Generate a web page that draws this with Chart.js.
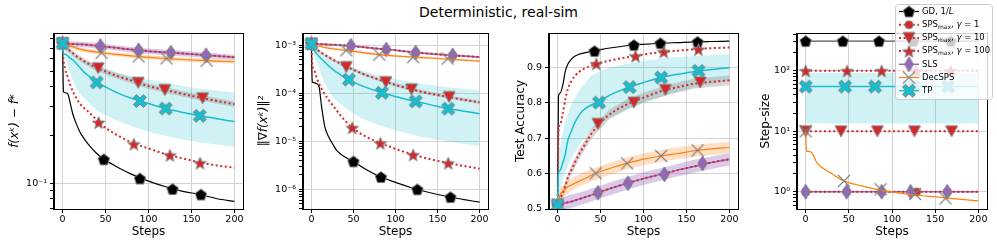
<!DOCTYPE html>
<html>
<head>
<meta charset="utf-8">
<script src="https://cdn.jsdelivr.net/npm/chart.js@4.4.0/dist/chart.umd.min.js"></script>
<style>
  html, body { margin: 0; padding: 0; background: #fff; }
  #wrap { position: relative; width: 997px; height: 249px; overflow: hidden; }
  .box { position: absolute; top: 0; }
  #title { position: absolute; left: 0; top: 4px; width: 997px; text-align: center;
           font: 14px "DejaVu Sans"; line-height: 16px; color: #000; }
</style>
</head>
<body>
<div id="wrap">
  <div id="title">Deterministic, real-sim</div>
  <div class="box" style="left:0px"><canvas id="c1" width="250" height="249"></canvas></div>
  <div class="box" style="left:250px"><canvas id="c2" width="245" height="249"></canvas></div>
  <div class="box" style="left:495px"><canvas id="c3" width="250" height="249"></canvas></div>
  <div class="box" style="left:745px"><canvas id="c4" width="252" height="249"></canvas></div>
</div>
<script>
// x grids (steps) the curves were read at
const steps = [0, 1, 3, 6, 9, 12, 16, 20, 25, 30, 40, 50, 65, 80, 100, 120, 140, 160, 180, 200];
const bandSteps = [0, 3, 8, 15, 25, 40, 60, 80, 100, 130, 160, 200];
const flatSteps = [0, 200];

// ---- panel 1: f(x^k) - f*
const lossGD = [0.75, 0.375, 0.368, 0.362, 0.315, 0.27, 0.235, 0.21, 0.19, 0.175, 0.153, 0.139, 0.125, 0.114, 0.103, 0.095, 0.089, 0.085, 0.080, 0.077];
const lossSps10 = [0.75, 0.73, 0.71, 0.69, 0.67, 0.65, 0.625, 0.605, 0.58, 0.56, 0.525, 0.50, 0.465, 0.44, 0.405, 0.382, 0.362, 0.343, 0.327, 0.312];
const lossSps100 = [0.75, 0.60, 0.52, 0.46, 0.41, 0.375, 0.34, 0.315, 0.295, 0.28, 0.248, 0.222, 0.198, 0.18, 0.165, 0.152, 0.143, 0.135, 0.129, 0.125];
const lossSls = [0.75, 0.749, 0.748, 0.746, 0.744, 0.742, 0.741, 0.74, 0.737, 0.733, 0.725, 0.715, 0.70, 0.685, 0.67, 0.658, 0.648, 0.637, 0.625, 0.613];
const lossSps1 = [0.75, 0.749, 0.748, 0.746, 0.744, 0.742, 0.741, 0.74, 0.737, 0.733, 0.725, 0.715, 0.70, 0.685, 0.67, 0.658, 0.648, 0.637, 0.625, 0.613];
const lossDec = [0.75, 0.745, 0.738, 0.728, 0.72, 0.712, 0.70, 0.69, 0.68, 0.672, 0.66, 0.65, 0.637, 0.626, 0.613, 0.603, 0.594, 0.587, 0.581, 0.575];
const lossTp = [0.75, 0.65, 0.64, 0.625, 0.605, 0.59, 0.56, 0.53, 0.495, 0.47, 0.428, 0.40, 0.365, 0.34, 0.315, 0.293, 0.277, 0.264, 0.253, 0.243];
const lossTpHi = [0.75, 0.72, 0.68, 0.63, 0.59, 0.545, 0.50, 0.47, 0.445, 0.415, 0.39, 0.369];
const lossTpLo = [0.75, 0.62, 0.50, 0.40, 0.34, 0.285, 0.25, 0.228, 0.21, 0.192, 0.18, 0.169];
const lossSlsHi = [0.75, 0.775, 0.775, 0.77, 0.765, 0.755, 0.733, 0.712, 0.697, 0.679, 0.662, 0.637];
const lossSlsLo = [0.75, 0.72, 0.716, 0.712, 0.708, 0.697, 0.678, 0.658, 0.643, 0.627, 0.612, 0.589];
const lossDecHi = [0.75, 0.755, 0.742, 0.724, 0.70, 0.68, 0.66, 0.645, 0.631, 0.616, 0.605, 0.592];
const lossDecLo = [0.75, 0.72, 0.70, 0.682, 0.66, 0.64, 0.622, 0.607, 0.595, 0.58, 0.569, 0.558];
const lossSps10Hi = [0.75, 0.735, 0.70, 0.655, 0.603, 0.546, 0.494, 0.458, 0.421, 0.387, 0.357, 0.324];
const lossSps10Lo = [0.75, 0.685, 0.65, 0.605, 0.557, 0.504, 0.456, 0.422, 0.389, 0.357, 0.329, 0.30];
const lossGDmk = [[0, 0.75], [48, 0.141], [90, 0.107], [128, 0.092], [161, 0.085]];
const lossSps1mk = [[0, 0.75], [44, 0.721], [88.5, 0.678], [126, 0.656], [167, 0.632]];
const lossSps10mk = [[0, 0.75], [41.5, 0.524], [88, 0.425], [119, 0.383], [163, 0.34]];
const lossSps100mk = [[0, 0.75], [42, 0.24], [83, 0.176], [125, 0.150], [160, 0.134]];
const lossSlsmk = [[0, 0.75], [44, 0.721], [88.5, 0.678], [126, 0.656], [167, 0.632]];
const lossDecmk = [[0, 0.75], [45.4, 0.655], [88.5, 0.62], [121, 0.604], [167.7, 0.584]];
const lossTpmk = [[0, 0.75], [39.6, 0.427], [90, 0.327], [120, 0.293], [159.6, 0.264]];

// ---- panel 2: ||grad f(x^k)||^2
const gradGD = [1.08e-3, 1.72e-4, 1.68e-4, 1.6e-4, 1.4e-4, 5.5e-5, 2.0e-5, 1.3e-5, 9e-6, 6.5e-6, 4.7e-6, 3.8e-6, 2.6e-6, 1.9e-6, 1.4e-6, 1.07e-6, 8.6e-7, 7.2e-7, 6.2e-7, 5.4e-7];
const gradSps10 = [1.08e-3, 1.0e-3, 9.2e-4, 8.3e-4, 7.6e-4, 7.0e-4, 6.3e-4, 5.7e-4, 5.1e-4, 4.6e-4, 3.7e-4, 3.1e-4, 2.4e-4, 1.95e-4, 1.5e-4, 1.2e-4, 1.0e-4, 8.6e-5, 7.4e-5, 6.5e-5];
const gradSps100 = [1.08e-3, 4.2e-4, 3.2e-4, 2.2e-4, 1.6e-4, 1.25e-4, 9.5e-5, 7.5e-5, 5.7e-5, 4.4e-5, 2.7e-5, 1.85e-5, 1.25e-5, 9.5e-6, 7.0e-6, 5.35e-6, 4.3e-6, 3.6e-6, 3.1e-6, 2.7e-6];
const gradSls = [1.08e-3, 1.078e-3, 1.075e-3, 1.07e-3, 1.065e-3, 1.06e-3, 1.05e-3, 1.04e-3, 1.03e-3, 1.02e-3, 9.9e-4, 9.6e-4, 9.0e-4, 8.5e-4, 7.9e-4, 7.2e-4, 6.7e-4, 6.3e-4, 6.0e-4, 5.7e-4];
const gradSps1 = [1.08e-3, 1.078e-3, 1.075e-3, 1.07e-3, 1.065e-3, 1.06e-3, 1.05e-3, 1.04e-3, 1.03e-3, 1.02e-3, 9.9e-4, 9.6e-4, 9.0e-4, 8.5e-4, 7.9e-4, 7.2e-4, 6.7e-4, 6.3e-4, 6.0e-4, 5.7e-4];
const gradDec = [1.08e-3, 1.06e-3, 1.03e-3, 1.0e-3, 9.7e-4, 9.4e-4, 9.0e-4, 8.8e-4, 8.5e-4, 8.3e-4, 7.9e-4, 7.5e-4, 6.9e-4, 6.4e-4, 6.0e-4, 5.7e-4, 5.45e-4, 5.2e-4, 4.95e-4, 4.7e-4];
const gradTp = [1.08e-3, 8.5e-4, 7.8e-4, 6.8e-4, 5.9e-4, 5.2e-4, 4.5e-4, 3.8e-4, 3.2e-4, 2.75e-4, 2.1e-4, 1.72e-4, 1.33e-4, 1.08e-4, 8.6e-5, 7.0e-5, 5.9e-5, 4.9e-5, 4.3e-5, 3.77e-5];
const gradTpHi = [1.08e-3, 9.5e-4, 7.8e-4, 6.2e-4, 5.0e-4, 3.9e-4, 3.0e-4, 2.4e-4, 2.0e-4, 1.6e-4, 1.35e-4, 1.15e-4];
const gradTpLo = [1.08e-3, 6.0e-4, 3.8e-4, 1.7e-4, 8.5e-5, 5.0e-5, 3.0e-5, 2.2e-5, 1.7e-5, 1.25e-5, 1.0e-5, 7.9e-6];
const gradSlsHi = [1.08e-3, 1.12e-3, 1.11e-3, 1.1e-3, 1.08e-3, 1.05e-3, 9.7e-4, 9.0e-4, 8.3e-4, 7.4e-4, 6.8e-4, 6.0e-4];
const gradSlsLo = [1.08e-3, 1.04e-3, 1.03e-3, 1.02e-3, 1.0e-3, 9.5e-4, 8.8e-4, 8.2e-4, 7.6e-4, 6.8e-4, 6.2e-4, 5.45e-4];
const gradDecHi = [1.08e-3, 1.07e-3, 1.03e-3, 9.8e-4, 9.1e-4, 8.5e-4, 7.6e-4, 6.9e-4, 6.4e-4, 5.95e-4, 5.5e-4, 4.95e-4];
const gradDecLo = [1.08e-3, 1.0e-3, 9.5e-4, 8.9e-4, 8.2e-4, 7.6e-4, 6.8e-4, 6.1e-4, 5.7e-4, 5.35e-4, 4.95e-4, 4.45e-4];
const gradSps10Hi = [1.08e-3, 9.9e-4, 8.4e-4, 7.0e-4, 5.5e-4, 4.05e-4, 2.8e-4, 2.1e-4, 1.62e-4, 1.19e-4, 9.3e-5, 7.0e-5];
const gradSps10Lo = [1.08e-3, 8.5e-4, 7.2e-4, 6.0e-4, 4.7e-4, 3.45e-4, 2.4e-4, 1.8e-4, 1.38e-4, 1.01e-4, 7.9e-5, 6.0e-5];
const gradGDmk = [[0, 1.08e-3], [50, 3.83e-6], [82.7, 1.81e-6], [126, 1.0e-6], [165.4, 6.9e-7]];
const gradSps1mk = [[0, 1.08e-3], [47, 9.8e-4], [89, 8.2e-4], [124, 7.1e-4], [168, 6.2e-4]];
const gradSps10mk = [[0, 1.08e-3], [41.5, 3.54e-4], [88.5, 1.72e-4], [119, 1.21e-4], [163.8, 8.4e-5]];
const gradSps100mk = [[0, 1.08e-3], [48.5, 1.93e-5], [82, 9.2e-6], [121, 5.27e-6], [162.7, 3.54e-6]];
const gradSlsmk = [[0, 1.08e-3], [47, 9.8e-4], [89, 8.2e-4], [124, 7.1e-4], [168, 6.2e-4]];
const gradDecmk = [[0, 1.08e-3], [41.5, 7.9e-4], [80.8, 6.4e-4], [121, 5.7e-4], [162, 5.3e-4]];
const gradTpmk = [[0, 1.08e-3], [44.6, 1.93e-4], [83.8, 1.03e-4], [124, 6.8e-5], [162.7, 4.8e-5]];

// ---- panel 3: test accuracy
const accGD = [0.511, 0.82, 0.828, 0.85, 0.89, 0.91, 0.924, 0.932, 0.938, 0.941, 0.946, 0.951, 0.957, 0.962, 0.966, 0.969, 0.971, 0.973, 0.974, 0.975];
const accSps10 = [0.511, 0.52, 0.53, 0.545, 0.565, 0.59, 0.61, 0.631, 0.655, 0.675, 0.715, 0.745, 0.775, 0.795, 0.815, 0.833, 0.845, 0.855, 0.86, 0.864];
const accSps100 = [0.511, 0.72, 0.74, 0.77, 0.81, 0.84, 0.862, 0.876, 0.888, 0.896, 0.906, 0.914, 0.922, 0.929, 0.937, 0.944, 0.948, 0.952, 0.955, 0.957];
const accSls = [0.511, 0.512, 0.513, 0.515, 0.517, 0.519, 0.521, 0.524, 0.528, 0.532, 0.54, 0.549, 0.561, 0.572, 0.586, 0.598, 0.61, 0.621, 0.632, 0.641];
const accSps1 = [0.511, 0.512, 0.513, 0.515, 0.517, 0.519, 0.521, 0.524, 0.528, 0.532, 0.54, 0.549, 0.561, 0.572, 0.586, 0.598, 0.61, 0.621, 0.632, 0.641];
const accDec = [0.513, 0.525, 0.54, 0.55, 0.557, 0.563, 0.568, 0.573, 0.579, 0.584, 0.596, 0.606, 0.618, 0.629, 0.641, 0.65, 0.657, 0.665, 0.67, 0.674];
const accTp = [0.511, 0.60, 0.61, 0.63, 0.655, 0.695, 0.72, 0.744, 0.765, 0.78, 0.795, 0.808, 0.827, 0.842, 0.858, 0.872, 0.881, 0.889, 0.895, 0.90];
const accTpHi = [0.65, 0.68, 0.74, 0.79, 0.835, 0.88, 0.90, 0.91, 0.919, 0.928, 0.933, 0.938];
const accTpLo = [0.515, 0.55, 0.60, 0.64, 0.68, 0.725, 0.758, 0.78, 0.80, 0.825, 0.845, 0.862];
const accSlsHi = [0.53, 0.532, 0.535, 0.54, 0.546, 0.558, 0.574, 0.59, 0.604, 0.622, 0.64, 0.658];
const accSlsLo = [0.492, 0.494, 0.497, 0.502, 0.51, 0.522, 0.538, 0.554, 0.568, 0.586, 0.603, 0.624];
const accDecHi = [0.513, 0.56, 0.57, 0.585, 0.598, 0.614, 0.63, 0.646, 0.658, 0.672, 0.682, 0.69];
const accDecLo = [0.513, 0.525, 0.535, 0.55, 0.563, 0.579, 0.596, 0.612, 0.624, 0.638, 0.648, 0.657];
const accSps10Hi = [0.511, 0.542, 0.572, 0.619, 0.669, 0.729, 0.781, 0.809, 0.829, 0.852, 0.869, 0.878];
const accSps10Lo = [0.511, 0.518, 0.544, 0.591, 0.641, 0.701, 0.753, 0.781, 0.801, 0.824, 0.841, 0.85];
const accGDmk = [[0, 0.511], [43, 0.947], [88.8, 0.964], [119.7, 0.969], [163, 0.973]];
const accSps1mk = [[0, 0.511], [47, 0.546], [81.9, 0.573], [124.3, 0.598], [168.7, 0.629]];
const accSps10mk = [[0, 0.511], [47, 0.741], [88.8, 0.801], [125.5, 0.837], [166, 0.858]];
const accSps100mk = [[0, 0.511], [45, 0.911], [90.7, 0.933], [123.6, 0.945], [164, 0.952]];
const accSlsmk = [[0, 0.511], [47, 0.546], [81.9, 0.573], [124.3, 0.598], [168.7, 0.629]];
const accDecmk = [[0, 0.513], [44.4, 0.601], [81, 0.629], [120.5, 0.65], [163, 0.666]];
const accTpmk = [[0, 0.511], [48.3, 0.801], [83.8, 0.845], [120.5, 0.872], [164, 0.891]];

// ---- panel 4: step-size
const stepGD = [309, 309];
const stepSps1 = [1, 1];
const stepSps10 = [10, 10];
const stepSps100 = [100, 100];
const stepSls = [1, 1];
const stepTp = [54.7, 54.7];
const stepTpHi = [92.7, 92.7];
const stepTpLo = [13.4, 13.4];
const stepDec = [10, 4.7, 4.65, 4.55, 4.0, 3.2, 2.7, 2.45, 2.2, 2.0, 1.62, 1.42, 1.25, 1.12, 1.0, 0.91, 0.85, 0.80, 0.75, 0.71];
const stepGDmk = [[0, 309], [43, 309], [85, 309], [125, 309], [168, 309]];
const stepSps1mk = [[0, 1], [47.5, 1], [88, 1], [128.6, 1], [164, 1]];
const stepSps10mk = [[0, 10], [41, 10], [83, 10], [126, 10], [169, 10]];
const stepSps100mk = [[0, 100], [48, 100], [88, 100], [128, 100], [168, 100]];
const stepSlsmk = [[0, 1], [47.5, 1], [88, 1], [121.6, 1], [164, 1]];
const stepDecmk = [[0, 10], [44.4, 1.51], [86.9, 1.1], [126.6, 0.92], [162, 0.78]];
const stepTpmk = [[0, 54.7], [45.6, 54.7], [80.3, 54.7], [125, 54.7], [165, 54.7]];

Chart.defaults.font.family = 'DejaVu Sans';
Chart.defaults.color = '#000';

const gray = '#7f7f7f';
const gridColor = '#d3d3d3';
const C = { gd: '#000000', sps: '#d62728', sls: '#9467bd', dec: '#ff7f0e', tp: '#17becf' };
const dot = [2, 2.6];

// matplotlib-like markers drawn onto small canvases
function makeMarker(shape, fill, w, h) {
  const c = document.createElement('canvas');
  c.width = w + 4; c.height = h + 4;
  const g = c.getContext('2d');
  g.translate(c.width / 2, c.height / 2);
  const rx = w / 2, ry = h / 2;
  g.beginPath();
  if (shape === 'x') {
    g.moveTo(-rx, -ry); g.lineTo(rx, ry); g.moveTo(rx, -ry); g.lineTo(-rx, ry);
    g.strokeStyle = gray; g.lineWidth = 1.1; g.stroke();
    return c;
  }
  if (shape === 'pentagon') {
    for (let k = 0; k < 5; k++) {
      const a = -Math.PI / 2 + k * 2 * Math.PI / 5;
      g.lineTo(rx * Math.cos(a), ry * Math.sin(a) + 0.6);
    }
  } else if (shape === 'star') {
    for (let k = 0; k < 10; k++) {
      const a = -Math.PI / 2 + k * Math.PI / 5;
      const r = k % 2 ? 0.42 : 1;
      g.lineTo(rx * r * Math.cos(a), ry * r * Math.sin(a) + 0.8);
    }
  } else if (shape === 'tri') {
    g.moveTo(-rx, -ry); g.lineTo(rx, -ry); g.lineTo(0, ry);
  } else if (shape === 'diamond') {
    g.moveTo(0, -ry); g.lineTo(rx, 0); g.lineTo(0, ry); g.lineTo(-rx, 0);
  } else if (shape === 'circle') {
    g.arc(0, 0, rx, 0, 2 * Math.PI);
  } else if (shape === 'X') {
    const t = 0.3;
    const pts = [[t, 1], [t, t], [1, t], [1, -t], [t, -t], [t, -1], [-t, -1], [-t, -t], [-1, -t], [-1, t], [-t, t], [-t, 1]];
    pts.forEach(([a, b]) => g.lineTo((a - b) * 0.72 * rx, (a + b) * 0.72 * ry));
  }
  g.closePath();
  g.fillStyle = fill; g.fill();
  g.strokeStyle = gray; g.lineWidth = 1; g.stroke();
  return c;
}

const mk = {
  gd: makeMarker('pentagon', '#000', 12, 12),
  sps1: makeMarker('circle', C.sps, 8, 8),
  sps10: makeMarker('tri', C.sps, 12, 11),
  sps100: makeMarker('star', C.sps, 13, 13),
  sls: makeMarker('diamond', C.sls, 9, 15),
  dec: makeMarker('x', null, 12, 12),
  tp: makeMarker('X', C.tp, 14, 14)
};

const pts = (xs, ys) => xs.map((x, i) => ({ x: x, y: ys[i] }));

function line(xs, ys, color, width, dash) {
  return { data: pts(xs, ys), borderColor: color, borderWidth: width, borderDash: dash || [],
           pointRadius: 0, fill: false, cubicInterpolationMode: 'monotone' };
}
function marks(list, img) {
  return { data: list.map(p => ({ x: p[0], y: p[1] })), showLine: false,
           pointStyle: img, pointRadius: 6, pointHoverRadius: 6 };
}
function band(xs, lo, hi, color) {
  return [
    { data: pts(xs, lo), borderWidth: 0, pointRadius: 0, fill: false },
    { data: pts(xs, hi), borderWidth: 0, pointRadius: 0, fill: '-1', backgroundColor: color }
  ];
}

const supDigits = { '0': '⁰', '1': '¹', '2': '²', '3': '³', '4': '⁴', '5': '⁵', '6': '⁶', '7': '⁷', '8': '⁸', '9': '⁹', '-': '⁻' };
function isDecade(v) { const e = Math.log10(v); return Math.abs(e - Math.round(e)) < 1e-9; }
function sciLabel(v) {
  const e = String(Math.round(Math.log10(v)));
  return '10' + e.split('').map(ch => supDigits[ch]).join('');
}
function minorTicks(e0, e1, min, max) {
  const out = [];
  for (let e = e0; e <= e1; e++) for (let m = 2; m <= 9; m++) {
    const v = m * Math.pow(10, e);
    if (v >= min && v <= max) out.push(v);
  }
  return out;
}

const tickFont = { size: 9.5 };
const titleFont = { size: 12 };

function xAxis() {
  return {
    type: 'linear', min: -10, max: 210,
    afterBuildTicks: s => { s.ticks = [0, 50, 100, 150, 200].map(v => ({ value: v })); },
    afterFit: s => { s.height = 40; },
    ticks: { font: tickFont, padding: 1, maxRotation: 0, autoSkip: false },
    grid: { color: gridColor, lineWidth: 1, tickColor: '#000', tickLength: 4 },
    border: { color: '#000', width: 1 },
    title: { display: true, text: 'Steps', font: titleFont, padding: { bottom: 10 } }
  };
}

function logAxis(min, max, majors, minors, title, width, pad, italic) {
  const all = majors.map(v => ({ value: v, major: true }))
    .concat(minors.map(v => ({ value: v, major: false })))
    .sort((a, b) => a.value - b.value);
  return {
    type: 'logarithmic', min: min, max: max,
    afterBuildTicks: s => { s.ticks = all.map(t => ({ value: t.value, major: t.major })); },
    afterFit: s => { s.width = width; },
    ticks: { font: tickFont, padding: 3, autoSkip: false, callback: v => isDecade(v) ? sciLabel(v) : '' },
    grid: { color: c => (c.tick && isDecade(c.tick.value)) ? gridColor : 'rgba(0,0,0,0)',
            tickColor: '#000', tickLength: 4, lineWidth: 1 },
    border: { color: '#000', width: 1 },
    title: { display: true, text: title, font: { size: 12, style: italic ? 'italic' : 'normal' }, padding: { top: pad } }
  };
}

// top and right spines
const frame = {
  id: 'frame',
  afterDraw(chart) {
    const a = chart.chartArea, g = chart.ctx;
    g.save();
    g.strokeStyle = '#000'; g.lineWidth = 1;
    g.strokeRect(Math.round(a.left) - 0.5, Math.round(a.top) + 0.5, Math.round(a.right - a.left) + 1, Math.round(a.bottom - a.top));
    g.restore();
  }
};

// legend box sitting in the top-right corner of the last panel
const legendItems = [
  { label: [['GD, 1/', 'n'], ['L', 'i']], color: C.gd, width: 1.2, dash: [], img: mk.gd },
  { label: [['SPS', 'n'], ['max', 's'], [', ', 'n'], ['γ', 'i'], [' = 1', 'n']], color: C.sps, width: 2, dash: dot, img: mk.sps1 },
  { label: [['SPS', 'n'], ['max', 's'], [', ', 'n'], ['γ', 'i'], [' = 10', 'n']], color: C.sps, width: 2, dash: dot, img: mk.sps10 },
  { label: [['SPS', 'n'], ['max', 's'], [', ', 'n'], ['γ', 'i'], [' = 100', 'n']], color: C.sps, width: 2, dash: dot, img: mk.sps100 },
  { label: [['SLS', 'n']], color: C.sls, width: 1.5, dash: [], img: mk.sls },
  { label: [['DecSPS', 'n']], color: C.dec, width: 1.2, dash: [], img: mk.dec },
  { label: [['TP', 'n']], color: C.tp, width: 1.5, dash: [], img: mk.tp }
];
const legendBox = {
  id: 'legendBox',
  afterDraw(chart) {
    const g = chart.ctx;
    g.save();
    const x0 = 150.5, y0 = 4.5, w = 97, h = 95, r = 3;
    g.beginPath();
    g.moveTo(x0 + r, y0); g.arcTo(x0 + w, y0, x0 + w, y0 + h, r); g.arcTo(x0 + w, y0 + h, x0, y0 + h, r);
    g.arcTo(x0, y0 + h, x0, y0, r); g.arcTo(x0, y0, x0 + w, y0, r); g.closePath();
    g.fillStyle = 'rgba(255,255,255,0.8)'; g.fill();
    g.strokeStyle = '#cccccc'; g.lineWidth = 1; g.stroke();
    legendItems.forEach((it, i) => {
      const y = 11.5 + i * 13.2;
      g.beginPath(); g.setLineDash(it.dash); g.strokeStyle = it.color; g.lineWidth = it.width;
      g.moveTo(154, y); g.lineTo(174, y); g.stroke(); g.setLineDash([]);
      g.drawImage(it.img, 164 - it.img.width / 2, y - it.img.height / 2);
      let x = 177;
      g.fillStyle = '#000'; g.textBaseline = 'middle';
      it.label.forEach(([t, s]) => {
        g.font = s === 'i' ? 'italic 8.5px "DejaVu Sans"' : (s === 's' ? '6px "DejaVu Sans"' : '8.5px "DejaVu Sans"');
        g.fillText(t, x, y + (s === 's' ? 2.5 : 0));
        x += g.measureText(t).width;
      });
    });
    g.restore();
  }
};

function makePanel(id, s, yScale, padRight, gdColor, extra) {
  const xsLine = s.flat ? flatSteps : steps;
  const xsBand = s.flat ? flatSteps : bandSteps;
  const list = [];
  list.push(...band(xsBand, s.tpLo, s.tpHi, 'rgba(23,190,207,0.2)'));
  if (s.sps10Lo) list.push(...band(xsBand, s.sps10Lo, s.sps10Hi, 'rgba(110,90,90,0.25)'));
  if (s.decLo) list.push(...band(xsBand, s.decLo, s.decHi, 'rgba(255,127,14,0.25)'));
  if (s.slsLo) list.push(...band(xsBand, s.slsLo, s.slsHi, 'rgba(148,103,189,0.35)'));
  list.push(line(xsLine, s.gd, gdColor, 1.2));
  list.push(marks(s.gdMk, mk.gd));
  list.push(line(xsLine, s.sps10, C.sps, 2, dot));
  list.push(marks(s.sps10Mk, mk.sps10));
  list.push(line(xsLine, s.sps100, C.sps, 2, dot));
  list.push(marks(s.sps100Mk, mk.sps100));
  list.push(line(xsLine, s.sls, C.sls, 1.5));
  list.push(line(xsLine, s.sps1, C.sps, 2, dot));
  list.push(marks(s.sps1Mk, mk.sps1));
  list.push(marks(s.slsMk, mk.sls));
  list.push(line(steps, s.dec, C.dec, 1.2));
  list.push(marks(s.decMk, mk.dec));
  list.push(line(xsLine, s.tp, C.tp, 1.5));
  list.push(marks(s.tpMk, mk.tp));
  // later entries drawn on top
  list.forEach((d, i) => { d.order = list.length - i; });

  return new Chart(document.getElementById(id), {
    type: 'line',
    data: { datasets: list },
    options: {
      responsive: false, animation: false, events: [],
      layout: { padding: { top: 33, left: 0, right: padRight, bottom: 0 } },
      plugins: { legend: { display: false }, tooltip: { enabled: false } },
      scales: { x: xAxis(), y: yScale }
    },
    plugins: [frame].concat(extra || [])
  });
}

makePanel('c1', {
  gd: lossGD, sps1: lossSps1, sps10: lossSps10, sps100: lossSps100, sls: lossSls, dec: lossDec, tp: lossTp,
  tpLo: lossTpLo, tpHi: lossTpHi, slsLo: lossSlsLo, slsHi: lossSlsHi, decLo: lossDecLo, decHi: lossDecHi,
  sps10Lo: lossSps10Lo, sps10Hi: lossSps10Hi,
  gdMk: lossGDmk, sps1Mk: lossSps1mk, sps10Mk: lossSps10mk, sps100Mk: lossSps100mk, slsMk: lossSlsmk, decMk: lossDecmk, tpMk: lossTpmk
}, logAxis(0.069, 0.87, [0.1], [0.07, 0.08, 0.09, 0.2, 0.3, 0.4, 0.5, 0.6, 0.7, 0.8], 'f(xᵏ) − f*', 54, 7.8, true), 5, C.gd);

makePanel('c2', {
  gd: gradGD, sps1: gradSps1, sps10: gradSps10, sps100: gradSps100, sls: gradSls, dec: gradDec, tp: gradTp,
  tpLo: gradTpLo, tpHi: gradTpHi, slsLo: gradSlsLo, slsHi: gradSlsHi, decLo: gradDecLo, decHi: gradDecHi,
  sps10Lo: gradSps10Lo, sps10Hi: gradSps10Hi,
  gdMk: gradGDmk, sps1Mk: gradSps1mk, sps10Mk: gradSps10mk, sps100Mk: gradSps100mk, slsMk: gradSlsmk, decMk: gradDecmk, tpMk: gradTpmk
}, logAxis(3.9e-7, 1.81e-3, [1e-6, 1e-5, 1e-4, 1e-3], minorTicks(-7, -3, 3.9e-7, 1.81e-3), '‖∇f(xᵏ)‖²', 53, 6.8, true), 5, C.gd);

makePanel('c3', {
  gd: accGD, sps1: accSps1, sps10: accSps10, sps100: accSps100, sls: accSls, dec: accDec, tp: accTp,
  tpLo: accTpLo, tpHi: accTpHi, slsLo: accSlsLo, slsHi: accSlsHi, decLo: accDecLo, decHi: accDecHi,
  sps10Lo: accSps10Lo, sps10Hi: accSps10Hi,
  gdMk: accGDmk, sps1Mk: accSps1mk, sps10Mk: accSps10mk, sps100Mk: accSps100mk, slsMk: accSlsmk, decMk: accDecmk, tpMk: accTpmk
}, {
  type: 'linear', min: 0.5, max: 0.998,
  afterBuildTicks: s => { s.ticks = [0.5, 0.6, 0.7, 0.8, 0.9].map(v => ({ value: v })); },
  afterFit: s => { s.width = 54; },
  ticks: { font: tickFont, padding: 3, autoSkip: false, callback: v => v.toFixed(1) },
  grid: { color: gridColor, tickColor: '#000', tickLength: 4, lineWidth: 1 },
  border: { color: '#000', width: 1 },
  title: { display: true, text: 'Test Accuracy', font: titleFont, padding: { top: 18.8 } }
}, 5, C.gd);

makePanel('c4', {
  flat: true,
  gd: stepGD, sps1: stepSps1, sps10: stepSps10, sps100: stepSps100, sls: stepSls, dec: stepDec, tp: stepTp,
  tpLo: stepTpLo, tpHi: stepTpHi,
  gdMk: stepGDmk, sps1Mk: stepSps1mk, sps10Mk: stepSps10mk, sps100Mk: stepSps100mk, slsMk: stepSlsmk, decMk: stepDecmk, tpMk: stepTpmk
}, logAxis(0.52, 420, [1, 10, 100], minorTicks(-1, 2, 0.52, 420), 'Step-size', 52, 13.8, false), 10, '#555555', [legendBox]);
</script>
</body>
</html>
